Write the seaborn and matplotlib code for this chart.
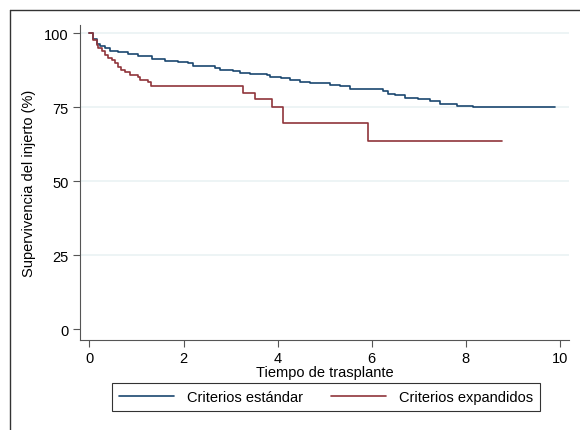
import pandas as pd
import matplotlib
matplotlib.use("Agg")
import matplotlib.pyplot as plt
import seaborn as sns
from matplotlib.lines import Line2D

# Kaplan-Meier estimates (time in years, survival in %)
std_time = [0, 0.08, 0.15, 0.22, 0.33, 0.44, 0.61, 0.82, 1.04, 1.32, 1.6, 1.89, 2.1,
            2.2, 2.67, 2.77, 3.06, 3.2, 3.41, 3.77, 3.84, 4.08, 4.26, 4.47, 4.69,
            5.11, 5.32, 5.53, 6.24, 6.35, 6.49, 6.71, 6.99, 7.24, 7.45, 7.8, 8.16, 9.9]
std_surv = [100, 98.1, 96.4, 95.6, 94.9, 94.0, 93.6, 92.9, 92.2, 91.3, 90.7, 90.4, 90.0,
            88.9, 88.3, 87.4, 87.2, 86.7, 86.3, 86.0, 85.3, 84.9, 84.2, 83.5, 83.1,
            82.6, 82.0, 81.1, 80.4, 79.5, 79.1, 78.1, 77.7, 77.0, 76.2, 75.5, 75.0, 75.0]

exp_time = [0, 0.08, 0.15, 0.19, 0.26, 0.33, 0.4, 0.47, 0.54, 0.61, 0.68, 0.76, 0.86,
            1.04, 1.07, 1.24, 1.31, 3.26, 3.51, 3.87, 4.12, 5.92, 8.77]
exp_surv = [100, 97.7, 96.0, 94.9, 94.0, 92.6, 91.5, 91.0, 89.9, 88.7, 87.6, 86.8, 85.9,
            85.3, 84.2, 83.4, 82.3, 79.9, 77.8, 75.2, 69.8, 63.6, 63.6]

groups = ["Criterios estándar", "Criterios expandidos"]
colors = ["#1a476f", "#90353b"]

yticks = [0, 25, 50, 75, 100]
xticks = [0, 2, 4, 6, 8, 10]

df = pd.concat([
    pd.DataFrame({"tiempo": std_time, "surv": std_surv, "grupo": groups[0]}),
    pd.DataFrame({"tiempo": exp_time, "surv": exp_surv, "grupo": groups[1]}),
])

sns.set_style("white")
plt.rcParams["font.family"] = ["Liberation Sans", "DejaVu Sans"]
plt.rcParams["text.color"] = "black"
plt.rcParams["axes.labelcolor"] = "black"
plt.rcParams["xtick.color"] = "black"
plt.rcParams["ytick.color"] = "black"

fig = plt.figure(figsize=(5.8, 4.31), dpi=100)
ax = fig.add_axes([0.138, 0.209, 0.843, 0.731])

for yt in yticks[1:]:
    ax.axhline(yt, color="#eaf2f3", lw=1.2, zorder=0)

for g, c in zip(groups, colors):
    sub = df[df["grupo"] == g]
    sns.lineplot(data=sub, x="tiempo", y="surv", ax=ax, color=c, lw=1.2,
                 drawstyle="steps-post", estimator=None, sort=False, label=g)

ax.set_xlim(-0.2, 10.19)
ax.set_ylim(-3.6, 102.8)
ax.set_xticks(xticks)
ax.set_yticks(yticks)
ax.set_xlabel("Tiempo de trasplante", fontsize=10.5, labelpad=0)
ax.set_ylabel("Supervivencia del injerto (%)", fontsize=10.5, labelpad=6)
ax.tick_params(axis="both", direction="out", length=5, width=0.8, color="#555555",
               labelcolor="black", labelsize=10.5, pad=3, left=True, bottom=True)
for s in ["top", "right"]:
    ax.spines[s].set_visible(False)
for s in ["left", "bottom"]:
    ax.spines[s].set_color("#555555")
    ax.spines[s].set_linewidth(0.8)

ax.get_legend().remove()
handles = [Line2D([], [], color=c, lw=1.2) for c in colors]
leg = fig.legend(handles, groups, loc="center", bbox_to_anchor=(0.562, 0.0766),
                 ncol=2, frameon=True, fancybox=False, fontsize=10.5,
                 handlelength=3.8, handletextpad=0.9, columnspacing=1.9,
                 borderpad=0.45)
leg.get_frame().set_edgecolor("black")
leg.get_frame().set_linewidth(0.8)

# outer frame (only top and left edges show)
fig.add_artist(Line2D([10 / 580, 10 / 580], [1 - 11 / 431, 0], color="#333333", lw=1.0))
fig.add_artist(Line2D([10 / 580, 1], [1 - 11 / 431, 1 - 11 / 431], color="#333333", lw=1.0))

fig.savefig("out.png", dpi=100)
